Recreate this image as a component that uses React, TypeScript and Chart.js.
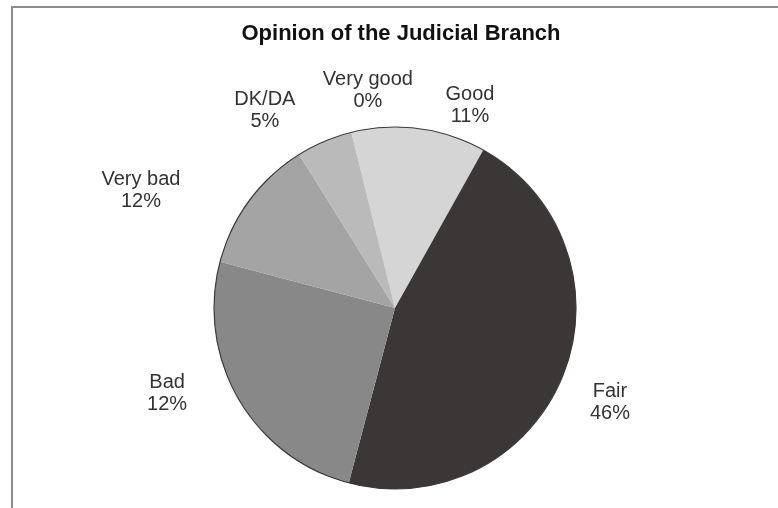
import React, { useEffect, useRef } from "react";
import { Chart, registerables } from "chart.js";

Chart.register(...registerables);

const TITLE = "Opinion of the Judicial Branch";
const CATEGORIES = ["Very good", "Good", "Fair", "Bad", "Very bad", "DK/DA"];
// Slice sizes (percent)
const VALUES = [0, 12, 46, 25, 12, 5];
// Percent texts as printed on the chart's labels
const PERCENT_LABELS = ["0%", "11%", "46%", "12%", "12%", "5%"];
const COLORS = ["#e6e6e6", "#d5d5d5", "#3b3736", "#888888", "#a4a4a4", "#bababa"];

// Label placement: polar angle (degrees clockwise from top) and distance in pie radii
const LABEL_ANGLES = [352.9, 20.3, 113.7, 249.4, 294.8, 326.6];
const LABEL_DIST = [1.211, 1.193, 1.297, 1.345, 1.546, 1.306];

const W = 778;
const H = 508;

const decorPlugin = {
  id: "decor",
  beforeDraw(chart: any) {
    const ctx = chart.ctx;
    ctx.save();
    ctx.fillStyle = "#ffffff";
    ctx.fillRect(0, 0, chart.width, chart.height);
    // frame
    ctx.strokeStyle = "#8c8c8c";
    ctx.lineWidth = 2;
    ctx.beginPath();
    ctx.moveTo(12, chart.height);
    ctx.lineTo(12, 7);
    ctx.lineTo(chart.width, 7);
    ctx.stroke();
    // title
    ctx.fillStyle = "#111111";
    ctx.font = "bold 22px 'Liberation Sans', Arial, sans-serif";
    ctx.textAlign = "center";
    ctx.textBaseline = "alphabetic";
    ctx.fillText(TITLE, 401, 40);
    ctx.restore();
  },
  afterDatasetsDraw(chart: any) {
    const ctx = chart.ctx;
    const meta = chart.getDatasetMeta(0);
    const arc = meta.data[0];
    if (!arc) return;
    const { x, y, outerRadius } = arc.getProps(["x", "y", "outerRadius"], true);
    ctx.save();
    ctx.strokeStyle = "#3a3a3a";
    ctx.lineWidth = 1.2;
    ctx.beginPath();
    ctx.arc(x, y, outerRadius, 0, Math.PI * 2);
    ctx.stroke();

    ctx.fillStyle = "#333333";
    ctx.font = "20px 'Liberation Sans', Arial, sans-serif";
    ctx.textAlign = "center";
    ctx.textBaseline = "alphabetic";
    CATEGORIES.forEach((cat, i) => {
      const a = (LABEL_ANGLES[i] * Math.PI) / 180;
      const d = LABEL_DIST[i] * outerRadius;
      const px = x + d * Math.sin(a);
      const py = y - d * Math.cos(a);
      ctx.fillText(cat, px, py - 5.5);
      ctx.fillText(PERCENT_LABELS[i], px, py + 16.5);
    });
    ctx.restore();
  },
};

export default function App() {
  const ref = useRef<HTMLCanvasElement | null>(null);
  useEffect(() => {
    document.body.style.margin = "0";
    const canvas = ref.current;
    if (!canvas) return;
    const chart = new Chart(canvas, {
      type: "pie",
      data: {
        labels: CATEGORIES,
        datasets: [
          {
            data: VALUES,
            backgroundColor: COLORS,
            borderWidth: 0,
          },
        ],
      },
      options: {
        responsive: false,
        animation: false,
        rotation: -14,
        layout: { padding: { top: 127, bottom: 19, left: 214, right: 202 } },
        plugins: {
          legend: { display: false },
          tooltip: { enabled: false },
          title: { display: false },
        },
      },
      plugins: [decorPlugin],
    });
    return () => chart.destroy();
  }, []);
  return (
    <div style={{ width: W, height: H, position: "relative" }}>
      <canvas ref={ref} width={W} height={H} style={{ display: "block" }} />
    </div>
  );
}
